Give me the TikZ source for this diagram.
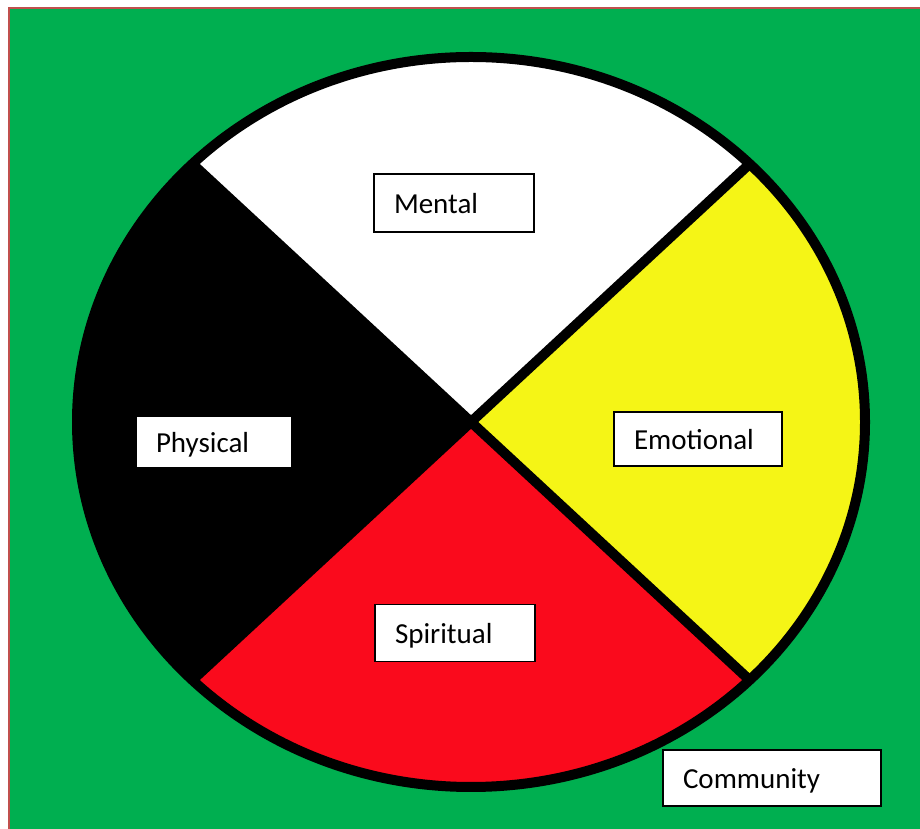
\documentclass[tikz,border=0pt]{standalone}
\usepackage{fontspec}
\setmainfont{Carlito}
\definecolor{bggreen}{RGB}{0,175,80}
\definecolor{framered}{RGB}{192,80,77}
\definecolor{wheelyellow}{RGB}{245,245,22}
\definecolor{wheelred}{RGB}{250,10,28}
\begin{document}
\begin{tikzpicture}[x=1pt,y=1pt,
  lbl/.style={draw=black, line width=1.8pt, fill=white, rectangle,
    align=left, inner xsep=20pt, inner ysep=3pt,
    font=\fontsize{29}{34}\selectfont, text height=24pt, text depth=2pt}]
\useasboundingbox (0,0) rectangle (920,829);
\fill[white] (0,0) rectangle (920,829);
\fill[bggreen] (9,0) rectangle (920,820);
\draw[framered, line width=2pt] (9,0) -- (9,821) -- (920,821);
\coordinate (c) at (471,407);
\coordinate (ne) at ([shift={(c)}]45:394pt and 365pt);
\coordinate (nw) at ([shift={(c)}]135:394pt and 365pt);
\coordinate (sw) at ([shift={(c)}]225:394pt and 365pt);
\coordinate (se) at ([shift={(c)}]315:394pt and 365pt);
\fill[white] (c) -- (ne) arc[start angle=45,end angle=135,x radius=394pt,y radius=365pt] -- cycle;
\fill[black] (c) -- (nw) arc[start angle=135,end angle=225,x radius=394pt,y radius=365pt] -- cycle;
\fill[wheelred] (c) -- (sw) arc[start angle=225,end angle=315,x radius=394pt,y radius=365pt] -- cycle;
\fill[wheelyellow] (c) -- (se) arc[start angle=315,end angle=405,x radius=394pt,y radius=365pt] -- cycle;
\draw[line width=10pt] (c) ellipse [x radius=394pt, y radius=365pt];
\draw[line width=10pt] (nw) -- (se);
\draw[line width=10pt] (ne) -- (sw);
\node[lbl, minimum width=160pt, minimum height=58pt, text width=120pt] (mental) at (454,626) {Mental};
\node[lbl, minimum width=156pt, minimum height=52pt, text width=116pt] (physical) at (214,387) {Physical};
\node[lbl, minimum width=168pt, minimum height=54pt, text width=128pt] (emotional) at (698,390) {Emotional};
\node[lbl, minimum width=160pt, minimum height=57pt, text width=120pt] (spiritual) at (455,196) {Spiritual};
\node[lbl, minimum width=218pt, minimum height=56pt, text width=178pt] (community) at (772,51) {Community};
\end{tikzpicture}
\end{document}
